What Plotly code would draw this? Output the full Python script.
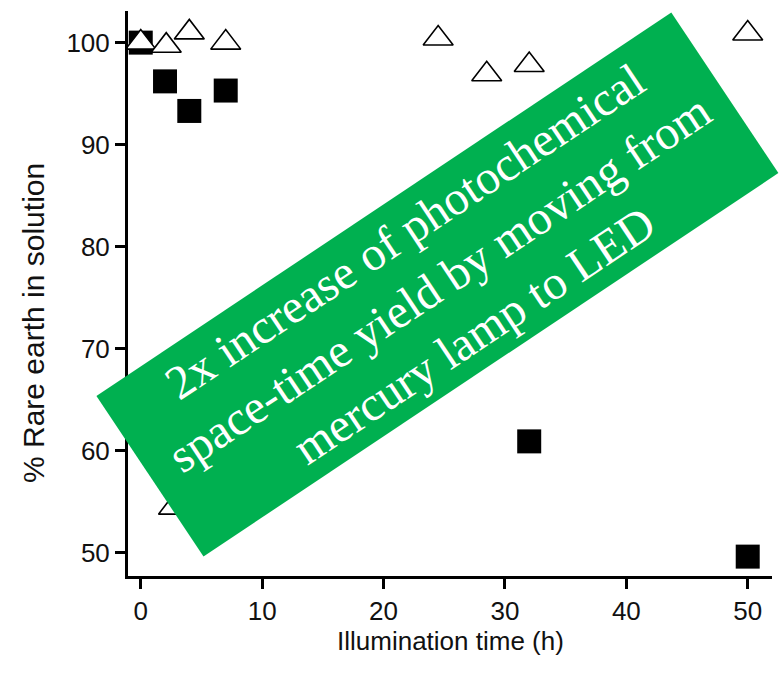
import math
import plotly.graph_objects as go

# ---- data ----
lamp_time = [0, 2, 4, 7, 32, 50]
lamp_pct = [100.0, 96.2, 93.3, 95.3, 60.9, 49.6]

led_time = [0, 2.1, 2.7, 4, 7, 24.5, 28.5, 32, 50]
led_pct = [100.0, 99.7, 54.4, 101.0, 100.0, 100.4, 96.9, 97.8, 100.9]

x_ticks = [0, 10, 20, 30, 40, 50]
y_ticks = [50, 60, 70, 80, 90, 100]

banner_text = "2x increase of photochemical<br>space-time yield by moving from<br>mercury lamp to LED"

W, H = 784, 677
ML, MR, MT, MB = 128, 12, 11, 101
PW, PH = W - ML - MR, H - MT - MB

SANS = "Liberation Sans, Arial, sans-serif"
INK = "#111111"

fig = go.Figure()
fig.add_trace(go.Scatter(
    x=lamp_time, y=lamp_pct, mode="markers",
    marker=dict(symbol="square", size=24, color="black", line=dict(width=0)),
    showlegend=False, cliponaxis=False))
fig.add_trace(go.Scatter(
    x=led_time, y=led_pct, mode="markers",
    marker=dict(symbol="triangle-up", size=26, color="white", line=dict(width=1.6, color="black")),
    showlegend=False, cliponaxis=False))

# rotated green banner (pixel geometry -> paper coords)
cx, cy, bw, bh, ang = 437.4, 284.5, 691, 193, math.radians(33.7)
ux, uy = math.cos(ang), -math.sin(ang)   # along text direction (up-right)
vx, vy = math.sin(ang), math.cos(ang)    # perpendicular (down-right)
pts = []
for a, b in [(-1, -1), (1, -1), (1, 1), (-1, 1)]:
    px = cx + a * bw / 2 * ux + b * bh / 2 * vx
    py = cy + a * bw / 2 * uy + b * bh / 2 * vy
    pts.append(((px - ML) / PW, (H - MB - py) / PH))
path = "M " + " L ".join(f"{p[0]:.5f},{p[1]:.5f}" for p in pts) + " Z"
fig.add_shape(type="path", path=path, xref="paper", yref="paper",
              fillcolor="#00B050", line=dict(width=0), layer="above")

fig.add_annotation(text=banner_text, x=(cx + 2 - ML) / PW, y=(H - MB - cy + 2) / PH,
                   xref="paper", yref="paper", showarrow=False, textangle=-33.7,
                   xanchor="center", yanchor="middle", align="center",
                   font=dict(family="Liberation Serif, Times New Roman, serif", size=48, color="white"))

# axis titles
fig.add_annotation(text="Illumination time (h)", x=0.5, y=(H - MB - 641) / PH,
                   xref="paper", yref="paper", showarrow=False,
                   xanchor="center", yanchor="middle",
                   font=dict(family=SANS, size=26, color=INK))
fig.add_annotation(text="% Rare earth in solution", x=(33 - ML) / PW, y=(H - MB - 323) / PH,
                   xref="paper", yref="paper", showarrow=False, textangle=-90,
                   xanchor="center", yanchor="middle",
                   font=dict(family=SANS, size=30, color=INK))

axis_common = dict(showline=True, linecolor="black", linewidth=3, ticks="outside",
                   ticklen=10, tickwidth=3, tickcolor="black", showgrid=False,
                   zeroline=False, tickfont=dict(family=SANS, size=26, color=INK))
fig.update_xaxes(range=[-1.05, 52], tickvals=x_ticks, ticktext=[str(v) for v in x_ticks], **axis_common)
fig.update_yaxes(range=[47.7, 103.1], tickvals=y_ticks, ticktext=[str(v) for v in y_ticks], **axis_common)

fig.update_layout(width=W, height=H, margin=dict(l=ML, r=MR, t=MT, b=MB),
                  paper_bgcolor="white", plot_bgcolor="white")
fig.write_html("out.html")
